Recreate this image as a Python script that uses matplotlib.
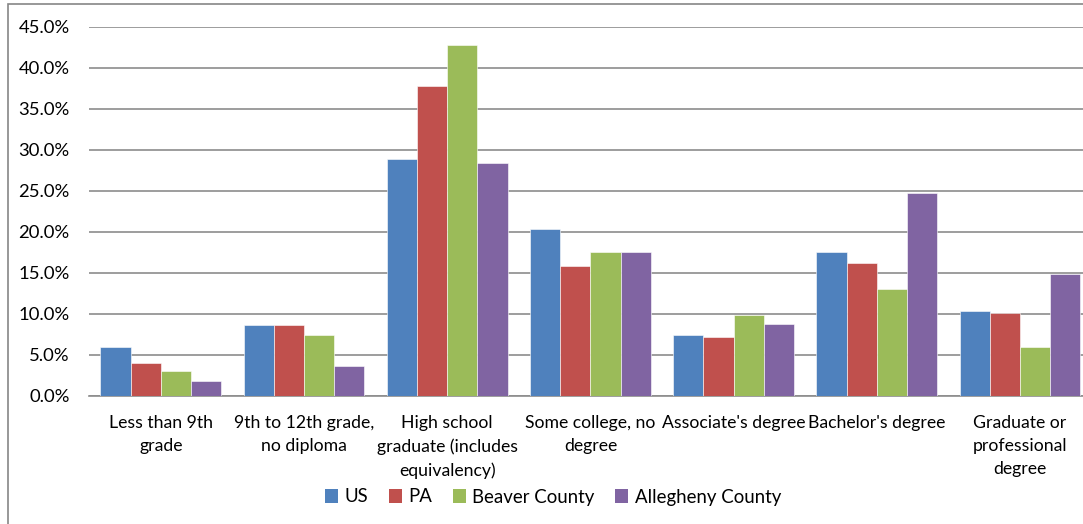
import numpy as np
import matplotlib
matplotlib.use("Agg")
import matplotlib.pyplot as plt
from matplotlib.patches import Rectangle, Patch
from matplotlib.ticker import FuncFormatter, MultipleLocator

plt.rcParams['font.family'] = ['Lato', 'DejaVu Sans']

# educational attainment, share of population 25+
categories = [
    "Less than 9th\ngrade",
    "9th to 12th grade,\nno diploma",
    "High school\ngraduate (includes\nequivalency)",
    "Some college, no\ndegree",
    "Associate's degree",
    "Bachelor's degree",
    "Graduate or\nprofessional\ndegree",
]
us = [6.0, 8.6, 28.9, 20.4, 7.4, 17.6, 10.3]
pa = [4.0, 8.6, 37.8, 15.9, 7.2, 16.2, 10.1]
beaver = [3.0, 7.4, 42.8, 17.6, 9.9, 13.0, 6.0]
allegheny = [1.8, 3.6, 28.4, 17.6, 8.8, 24.7, 14.9]

series = [("US", us, "#4F81BD"),
          ("PA", pa, "#C0504D"),
          ("Beaver County", beaver, "#9BBB59"),
          ("Allegheny County", allegheny, "#8064A2")]

W, H = 1083, 524
fig = plt.figure(figsize=(W / 100, H / 100), dpi=100)
ax = fig.add_axes([89.2 / W, 1 - 396 / H, 1002.4 / W, 369.3 / H])

x = np.arange(len(categories))
bw = 0.211
for i, (name, vals, col) in enumerate(series):
    ax.bar(x + (i - 1.5) * bw, vals, width=bw, color=col,
           edgecolor="white", linewidth=0.4, zorder=3, label=name)

ax.set_xlim(-0.5, len(categories) - 0.5)
ax.set_ylim(0, 45)
ax.yaxis.set_major_locator(MultipleLocator(5))
ax.yaxis.set_major_formatter(FuncFormatter(lambda v, p: f"{v:.1f}%"))
ax.grid(axis="y", color="#8c8c8c", linewidth=1.2, zorder=0)
ax.set_axisbelow(True)

for s in ["top", "right", "left"]:
    ax.spines[s].set_visible(False)
ax.spines["bottom"].set_color("#8c8c8c")
ax.spines["bottom"].set_linewidth(1.2)

ax.set_xticks(x)
ax.set_xticklabels(categories, fontsize=12.7, linespacing=1.52)
ax.tick_params(axis="x", length=0, pad=14)
ax.tick_params(axis="y", length=0, pad=14, labelsize=13.3)

handles = [Patch(facecolor=c, label=n) for n, _, c in series]
fig.legend(handles=handles, loc="center", bbox_to_anchor=(553 / W, 1 - 497 / H),
           ncol=4, frameon=False, fontsize=13.4, handlelength=0.7,
           handleheight=0.7, handletextpad=0.35, columnspacing=1.1)

# outer chart border
fig.patches.append(Rectangle((7.5 / W, -0.1), 1.2, 1 - 4 / H + 0.1,
                             transform=fig.transFigure, fill=False,
                             edgecolor="#868686", linewidth=1.2))

fig.savefig("out.png", dpi=100)
